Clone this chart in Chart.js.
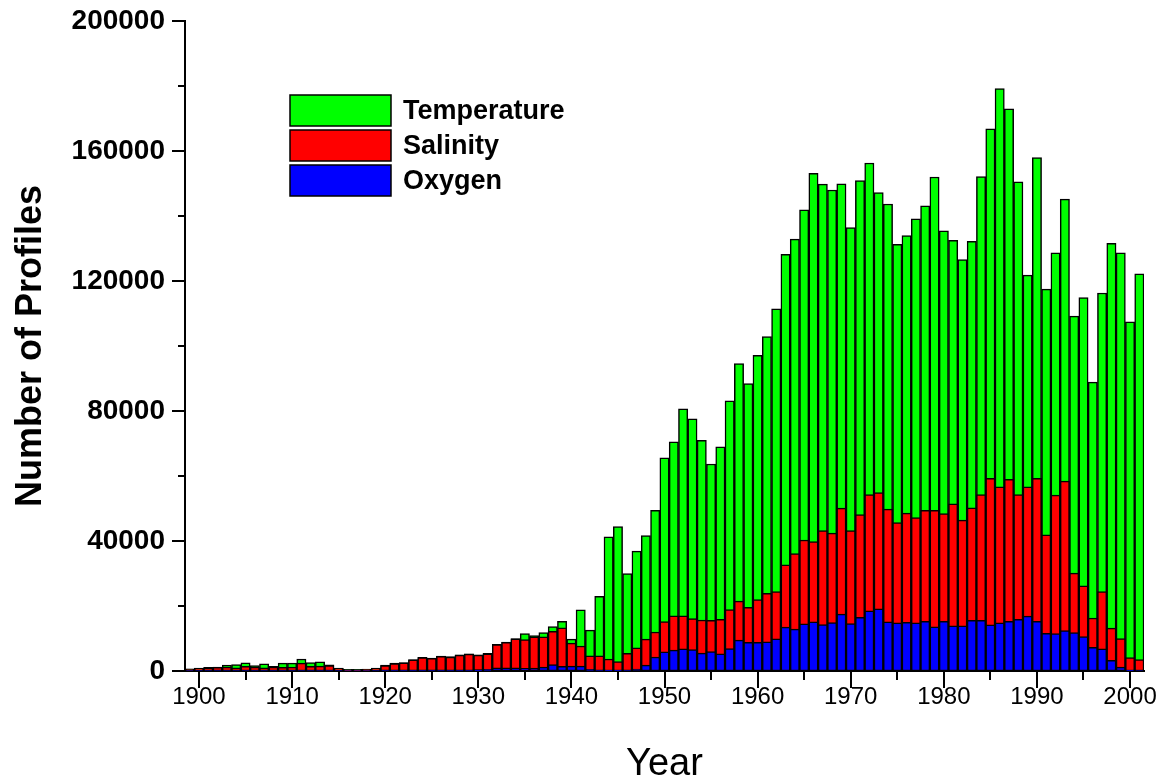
<!DOCTYPE html>
<html>
<head>
<meta charset="utf-8">
<script src="https://cdn.jsdelivr.net/npm/chart.js@4.4.1/dist/chart.umd.min.js"></script>
<style>
  html, body { margin: 0; padding: 0; background: #ffffff; }
  #wrap { width: 1166px; height: 778px; position: relative; }
</style>
</head>
<body>
<div id="wrap"><canvas id="c" width="1166" height="778"></canvas></div>
<script>
// Years 1899 .. 2001
const years = [];
for (let y = 1899; y <= 2001; y++) years.push(y);

// Number of profiles per year
const temperature = [
  700, 900, 1100, 1200, 1800, 2000, 2500, 1700, 2200, 1400,
  2400, 2400, 3700, 2600, 2800, 1900, 900, 500, 500, 600,
  900, 1800, 2400, 2600, 3500, 4200, 4000, 4600, 4400, 5000,
  5300, 5000, 5400, 8200, 8900, 10000, 11500, 10900, 11800, 13700,
  15300, 9800, 18800, 12600, 23000, 41300, 44400, 30000, 36900, 41700,
  49400, 65600, 70500, 80700, 77600, 71000, 63700, 69000, 83100, 94600,
  88400, 97100, 102900, 111400, 128200, 132900, 141900, 153100, 149800, 148000,
  149900, 136400, 150900, 156300, 147200, 143700, 131300, 134000, 139100, 143100,
  152000, 135400, 132500, 126600, 132200, 152100, 166800, 179200, 173000, 150500,
  121800, 158000, 117500, 128700, 145200, 109200, 114900, 88900, 116300, 131600,
  128700, 107400, 122200
];
const salinity = [
  600, 800, 1000, 1100, 1200, 1000, 1400, 1200, 1000, 1200,
  1100, 1200, 2400, 1400, 1500, 1700, 800, 400, 400, 500,
  800, 1700, 2300, 2500, 3400, 4100, 3900, 4500, 4300, 4900,
  5200, 4900, 5300, 8100, 8800, 9900, 9700, 10500, 10500, 12200,
  13300, 8600, 7700, 4700, 4700, 3700, 2900, 5400, 7100, 9800,
  12000, 15200, 17000, 17000, 16100, 15700, 15600, 15900, 18900, 21500,
  19600, 22000, 23900, 24400, 32700, 36100, 40300, 39800, 43200, 42400,
  50100, 43200, 48100, 54300, 54900, 49800, 45700, 48600, 47200, 49400,
  49400, 48400, 51400, 46400, 50200, 54300, 59300, 56700, 59000, 54300,
  56700, 59300, 41900, 54100, 58400, 30100, 26200, 16300, 24400, 13200,
  10000, 4100, 3500
];
const oxygen = [
  100, 100, 100, 100, 100, 100, 100, 100, 100, 100,
  100, 100, 100, 100, 100, 100, 100, 100, 100, 100,
  100, 300, 300, 300, 300, 300, 300, 300, 300, 300,
  300, 400, 500, 1000, 1000, 1000, 800, 900, 1200, 2000,
  1400, 1500, 1500, 500, 300, 200, 200, 300, 600, 1800,
  4300, 5900, 6400, 6800, 6600, 5500, 6000, 5300, 6900, 9500,
  8800, 8800, 9000, 9900, 13500, 12900, 14500, 15100, 14300, 14900,
  17500, 14600, 16500, 18500, 19100, 15100, 14800, 15000, 14800, 15300,
  13600, 15300, 13900, 13900, 15600, 15600, 14200, 14800, 15300, 15900,
  16900, 15300, 11600, 11500, 12400, 11800, 10600, 7300, 6800, 3300,
  1200, 200, 100
];
const yTicks = [0, 40000, 80000, 120000, 160000, 200000];

const FONT = "'Liberation Sans', Arial, Helvetica, sans-serif";

// Tick marks on both axes (long major marks, short minor marks)
const axisTicks = {
  id: 'axisTicks',
  afterDraw(chart) {
    const ctx = chart.ctx;
    const xs = chart.scales.x, ys = chart.scales.y;
    const area = chart.chartArea;
    ctx.save();
    ctx.strokeStyle = '#000';
    ctx.lineWidth = 2;
    // x axis marks every 5 years
    years.forEach((yr, i) => {
      if (yr % 5 !== 0) return;
      const px = Math.round(xs.getPixelForValue(i));
      const len = yr % 10 === 0 ? 17 : 9;
      ctx.beginPath();
      ctx.moveTo(px, area.bottom);
      ctx.lineTo(px, area.bottom + len);
      ctx.stroke();
    });
    // y axis marks every 20000
    for (let v = 0; v <= 200000; v += 20000) {
      const py = Math.round(ys.getPixelForValue(v));
      const len = v % 40000 === 0 ? 13 : 7;
      ctx.beginPath();
      ctx.moveTo(area.left, py);
      ctx.lineTo(area.left - len, py);
      ctx.stroke();
    }
    ctx.restore();
  }
};

// Key with filled boxes, listed from the tallest series down
const boxKey = {
  id: 'boxKey',
  afterDraw(chart) {
    const ctx = chart.ctx;
    const order = [2, 1, 0];
    const bx = 290, by = 95, bw = 101, bh = 31, gap = 4;
    ctx.save();
    ctx.font = "bold 27px " + FONT;
    ctx.textBaseline = 'middle';
    ctx.textAlign = 'left';
    order.forEach((di, k) => {
      const ds = chart.data.datasets[di];
      const top = by + k * (bh + gap);
      ctx.fillStyle = ds.backgroundColor;
      ctx.fillRect(bx, top, bw, bh);
      ctx.lineWidth = 1.5;
      ctx.strokeStyle = '#000';
      ctx.strokeRect(bx, top, bw, bh);
      ctx.fillStyle = '#000';
      ctx.fillText(ds.label, bx + bw + 12, top + bh / 2 + 1);
    });
    ctx.restore();
  }
};

const barStyle = {
  borderColor: '#000000',
  borderWidth: 1.5,
  borderSkipped: false,
  barPercentage: 1.0,
  categoryPercentage: 1.0,
  grouped: false
};

new Chart(document.getElementById('c'), {
  type: 'bar',
  data: {
    labels: years,
    datasets: [
      Object.assign({ label: 'Oxygen', data: oxygen, backgroundColor: '#0000ff' }, barStyle),
      Object.assign({ label: 'Salinity', data: salinity, backgroundColor: '#ff0000' }, barStyle),
      Object.assign({ label: 'Temperature', data: temperature, backgroundColor: '#00ff00' }, barStyle)
    ]
  },
  options: {
    responsive: false,
    animation: false,
    devicePixelRatio: 1,
    layout: { padding: { top: 21, right: 22, left: 0, bottom: 0 } },
    plugins: {
      legend: { display: false },
      tooltip: { enabled: false }
    },
    scales: {
      x: {
        type: 'category',
        offset: true,
        grid: { display: false },
        border: { display: true, color: '#000', width: 2 },
        ticks: {
          autoSkip: false,
          maxRotation: 0,
          minRotation: 0,
          padding: 4,
          color: '#000',
          font: { family: FONT, size: 24 },
          callback: (v, i) => (years[i] % 10 === 0 ? String(years[i]) : '')
        },
        title: {
          display: true,
          text: 'Year',
          color: '#000',
          font: { family: FONT, size: 38 },
          padding: { top: 0, bottom: -9 }
        },
        afterFit(scale) { scale.height = 107; }
      },
      y: {
        min: 0,
        max: 200000,
        afterBuildTicks(scale) { scale.ticks = yTicks.map(v => ({ value: v })); },
        grid: { display: false },
        border: { display: true, color: '#000', width: 2 },
        ticks: {
          padding: 12,
          color: '#000',
          font: { family: FONT, size: 28, weight: 'bold' },
          callback: v => String(v)
        },
        title: {
          display: true,
          text: 'Number of Profiles',
          color: '#000',
          font: { family: FONT, size: 36, weight: 'bold' },
          padding: { top: 9, bottom: 0 }
        },
        afterFit(scale) {
          scale.width = 185;
          scale.paddingTop = 0;
          scale.paddingBottom = 0;
        }
      }
    }
  },
  plugins: [axisTicks, boxKey]
});
</script>
</body>
</html>
